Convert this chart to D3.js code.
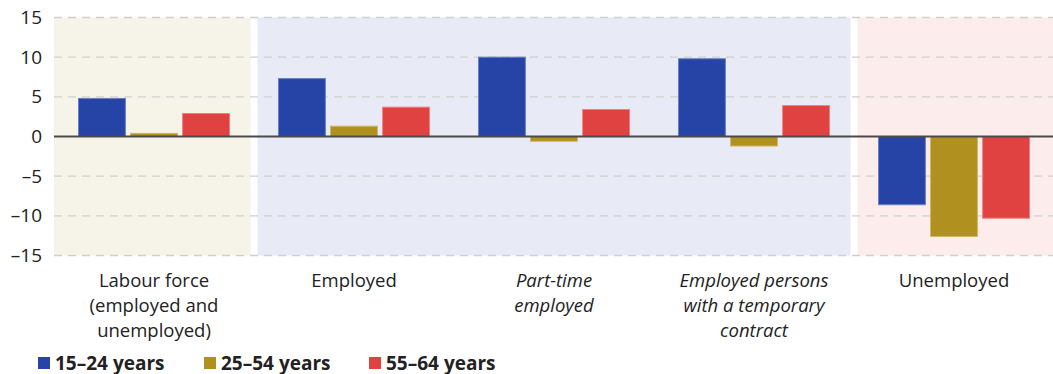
<!DOCTYPE html>
<html>
<head>
<meta charset="utf-8">
<script src="https://cdn.jsdelivr.net/npm/d3@7"></script>
<style>
  body { margin: 0; background: #fff; }
  svg { display: block; font-family: "Open Sans", "Noto Sans", sans-serif; }
</style>
</head>
<body>
<div id="chart"></div>
<script>
const categories = [
  ["Labour force", "(employed and", "unemployed)"],
  ["Employed"],
  ["Part-time", "employed"],
  ["Employed persons", "with a temporary", "contract"],
  ["Unemployed"]
];
const italicCats = [false, false, true, true, false];
const seriesNames = ["15–24 years", "25–54 years", "55–64 years"];
const youth = [4.8, 7.3, 10.0, 9.8, -8.6];
const prime = [0.4, 1.3, -0.6, -1.2, -12.6];
const older = [2.9, 3.7, 3.4, 3.9, -10.3];
const yTicks = [15, 10, 5, 0, -5, -10, -15];
// background panels: first index, last index
const panels = [[0, 0, "#f6f4e9"], [1, 3, "#e8eaf6"], [4, 4, "#fcecec"]];
const colors = ["#2644a6", "#b0901f", "#e04141"];
const strokes = ["#6b80c4", "#d0b860", "#f08080"];

const width = 1053, height = 374;
const margin = { left: 54, right: 0, top: 17.5, bottom: 118.5 };

const svg = d3.select("#chart").append("svg")
  .attr("width", width).attr("height", height);

const x = d3.scaleBand()
  .domain(d3.range(categories.length))
  .range([margin.left, margin.left + 1000]);

const y = d3.scaleLinear()
  .domain([-15, 15])
  .range([height - margin.bottom, margin.top]);

const xs = d3.scaleBand()
  .domain(d3.range(seriesNames.length))
  .range([24, x.bandwidth() - 24])
  .paddingInner(0.08);

// panels
svg.append("g").selectAll("rect")
  .data(panels)
  .join("rect")
  .attr("x", d => x(d[0]) + (d[0] === 0 ? 0 : 3.5))
  .attr("width", d => x(d[1]) + x.bandwidth() - x(d[0]) - (d[0] === 0 ? 3.5 : 7) + (d[1] === categories.length - 1 ? 3.5 : 0))
  .attr("y", y(15))
  .attr("height", y(-15) - y(15))
  .attr("fill", d => d[2]);

// grid
svg.append("g").selectAll("line")
  .data(yTicks.filter(t => t !== 0))
  .join("line")
  .attr("x1", margin.left).attr("x2", width)
  .attr("y1", d => y(d)).attr("y2", d => y(d))
  .attr("stroke", "#cfcfcf")
  .attr("stroke-width", 1.3)
  .attr("stroke-dasharray", "8,6");

// y axis labels
const yAxis = d3.axisLeft(y).tickValues(yTicks).tickSize(0).tickPadding(12)
  .tickFormat(d => d < 0 ? "–" + Math.abs(d) : d);
svg.append("g")
  .attr("transform", `translate(${margin.left},0)`)
  .call(yAxis)
  .call(g => g.select(".domain").remove())
  .call(g => g.selectAll("text")
    .style("font-size", "19px")
    .style("font-family", "'Open Sans', sans-serif")
    .attr("fill", "#222"));

// bars
const series = [youth, prime, older];
const bars = svg.append("g");
series.forEach((vals, s) => {
  bars.selectAll(null)
    .data(vals)
    .join("rect")
    .attr("x", (d, i) => x(i) + xs(s) + 0.5)
    .attr("width", xs.bandwidth() - 1)
    .attr("y", d => y(Math.max(0, d)))
    .attr("height", d => Math.abs(y(d) - y(0)))
    .attr("fill", colors[s])
    .attr("stroke", strokes[s])
    .attr("stroke-width", 1);
});

// zero line
svg.append("line")
  .attr("x1", margin.left).attr("x2", width)
  .attr("y1", y(0)).attr("y2", y(0))
  .attr("stroke", "#4a4a4a").attr("stroke-width", 2);

// category labels
const cat = svg.append("g").selectAll("text")
  .data(categories)
  .join("text")
  .attr("text-anchor", "middle")
  .attr("font-size", 18.5)
  .attr("fill", "#222")
  .attr("font-style", (d, i) => italicCats[i] ? "italic" : "normal")
  .attr("transform", (d, i) => `translate(${x(i) + x.bandwidth() / 2},287)`);
cat.selectAll("tspan")
  .data(d => d)
  .join("tspan")
  .attr("x", 0)
  .attr("y", (d, j) => j * 25)
  .text(d => d);

// legend
const legendX = [38, 204, 369];
const leg = svg.append("g").selectAll("g")
  .data(seriesNames)
  .join("g")
  .attr("transform", (d, i) => `translate(${legendX[i]},357)`);
leg.append("rect")
  .attr("width", 12).attr("height", 12)
  .attr("fill", (d, i) => colors[i]);
leg.append("text")
  .attr("x", 17).attr("y", 12.5)
  .attr("font-size", 19).attr("font-weight", "bold")
  .attr("fill", "#222")
  .text(d => d);
</script>
</body>
</html>
